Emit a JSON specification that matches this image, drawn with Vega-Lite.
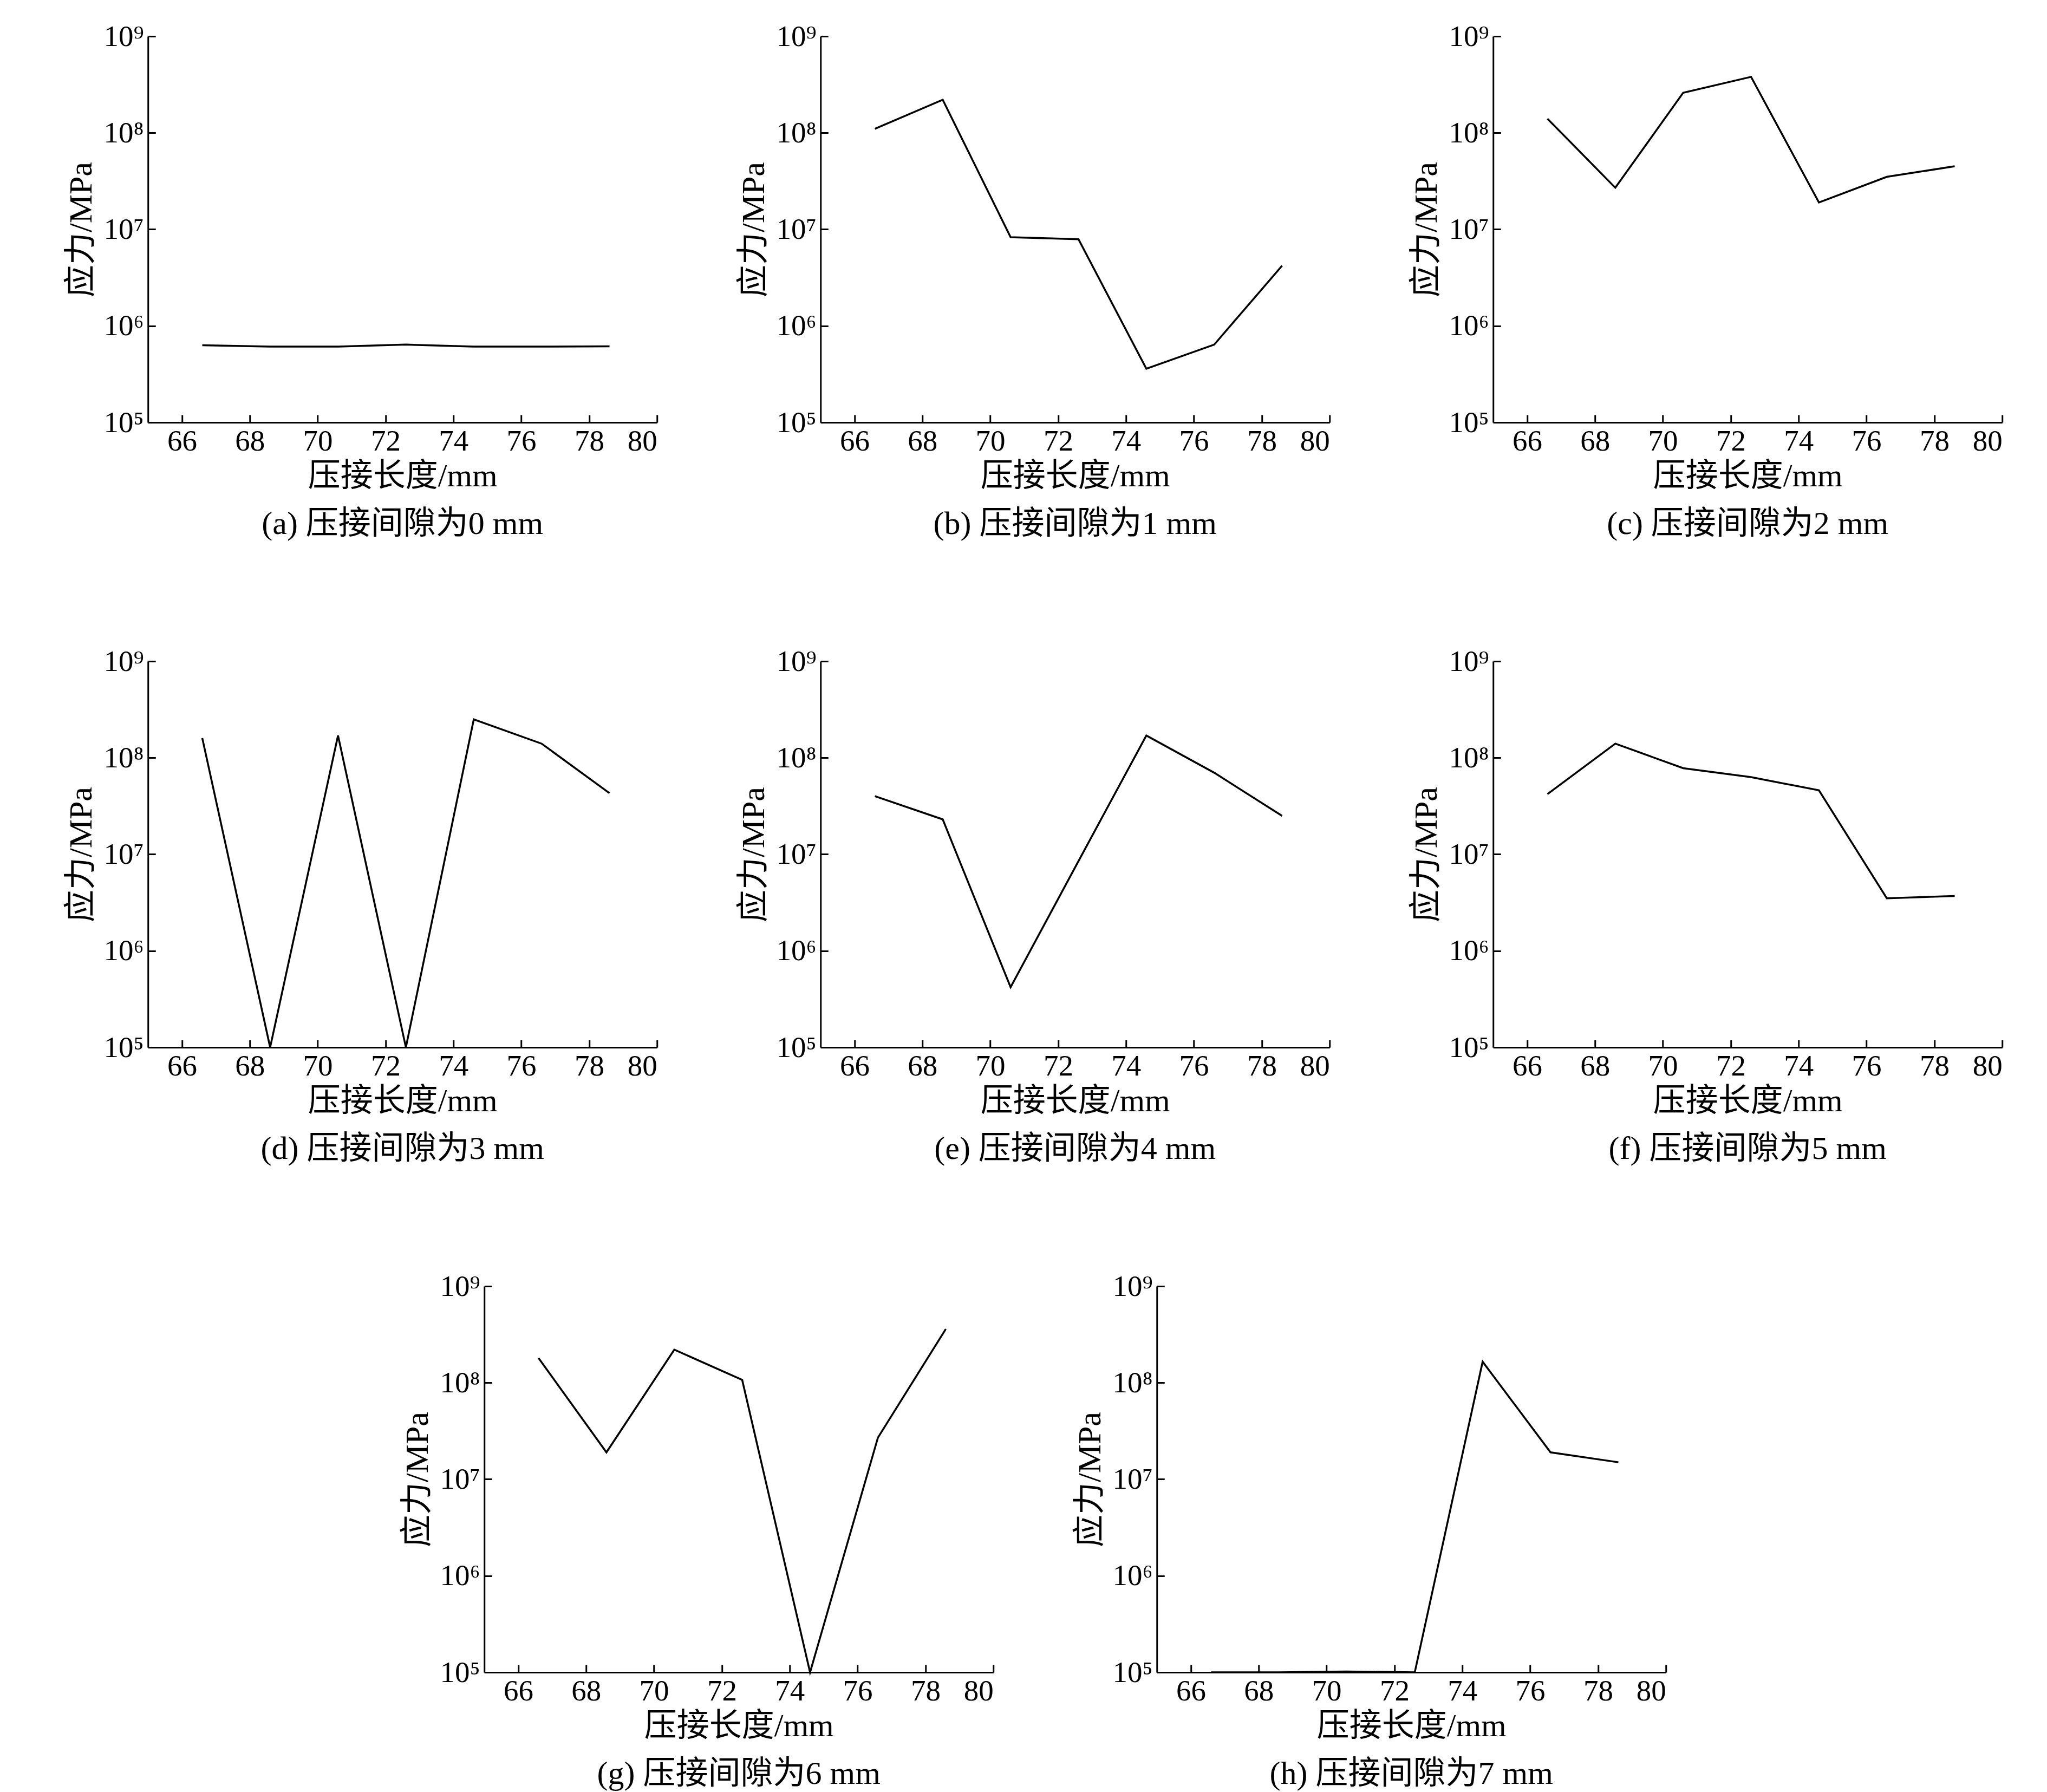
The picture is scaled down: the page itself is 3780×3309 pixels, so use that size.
{
  "$schema": "https://vega.github.io/schema/vega-lite/v6.json",
  "background": "white",
  "padding": {"left": 120, "top": 40, "right": 20, "bottom": 20},
  "datasets": {
    "d": [
      {"p": "a", "x": 66.6, "y": 630000}, {"p": "a", "x": 68.6, "y": 610000}, {"p": "a", "x": 70.6, "y": 610000}, {"p": "a", "x": 72.6, "y": 640000}, {"p": "a", "x": 74.6, "y": 610000}, {"p": "a", "x": 76.6, "y": 610000}, {"p": "a", "x": 78.6, "y": 615000},
      {"p": "b", "x": 66.6, "y": 110000000}, {"p": "b", "x": 68.6, "y": 220000000}, {"p": "b", "x": 70.6, "y": 8300000}, {"p": "b", "x": 72.6, "y": 7900000}, {"p": "b", "x": 74.6, "y": 360000}, {"p": "b", "x": 76.6, "y": 640000}, {"p": "b", "x": 78.6, "y": 4200000},
      {"p": "c", "x": 66.6, "y": 140000000}, {"p": "c", "x": 68.6, "y": 27000000}, {"p": "c", "x": 70.6, "y": 260000000}, {"p": "c", "x": 72.6, "y": 380000000}, {"p": "c", "x": 74.6, "y": 19000000}, {"p": "c", "x": 76.6, "y": 35000000}, {"p": "c", "x": 78.6, "y": 45000000},
      {"p": "d", "x": 66.6, "y": 160000000}, {"p": "d", "x": 68.6, "y": 100000}, {"p": "d", "x": 70.6, "y": 170000000}, {"p": "d", "x": 72.6, "y": 100000}, {"p": "d", "x": 74.6, "y": 250000000}, {"p": "d", "x": 76.6, "y": 140000000}, {"p": "d", "x": 78.6, "y": 43000000},
      {"p": "e", "x": 66.6, "y": 40000000}, {"p": "e", "x": 68.6, "y": 23000000}, {"p": "e", "x": 70.6, "y": 420000}, {"p": "e", "x": 72.6, "y": 8500000}, {"p": "e", "x": 74.6, "y": 170000000}, {"p": "e", "x": 76.6, "y": 70000000}, {"p": "e", "x": 78.6, "y": 25000000},
      {"p": "f", "x": 66.6, "y": 42000000}, {"p": "f", "x": 68.6, "y": 140000000}, {"p": "f", "x": 70.6, "y": 78000000}, {"p": "f", "x": 72.6, "y": 63000000}, {"p": "f", "x": 74.6, "y": 46000000}, {"p": "f", "x": 76.6, "y": 3500000}, {"p": "f", "x": 78.6, "y": 3700000},
      {"p": "g", "x": 66.6, "y": 180000000}, {"p": "g", "x": 68.6, "y": 19000000}, {"p": "g", "x": 70.6, "y": 220000000}, {"p": "g", "x": 72.6, "y": 107000000}, {"p": "g", "x": 74.6, "y": 100000}, {"p": "g", "x": 76.6, "y": 27000000}, {"p": "g", "x": 78.6, "y": 360000000},
      {"p": "h", "x": 66.6, "y": 100000}, {"p": "h", "x": 68.6, "y": 100000}, {"p": "h", "x": 70.6, "y": 102000}, {"p": "h", "x": 72.6, "y": 100000}, {"p": "h", "x": 74.6, "y": 165000000}, {"p": "h", "x": 76.6, "y": 19000000}, {"p": "h", "x": 78.6, "y": 15000000}
    ]
  },
  "vconcat": [
    {"hconcat": [
      {"data": {"name": "d"}, "transform": [{"filter": "datum.p == 'a'"}], "width": 940, "height": 713, "title": "(a) 压接间隙为0 mm", "mark": {"type": "line", "color": "black", "strokeWidth": 3.5},
       "encoding": {"x": {"field": "x", "type": "quantitative", "scale": {"domain": [65, 80]}, "axis": {"values": [66, 68, 70, 72, 74, 76, 78, 80]}, "title": "压接长度/mm"},
                    "y": {"field": "y", "type": "quantitative", "scale": {"type": "log", "domain": [100000, 1000000000]}, "axis": {"values": [100000, 1000000, 10000000, 100000000, 1000000000]}, "title": "应力/MPa"}}},
      {"data": {"name": "d"}, "transform": [{"filter": "datum.p == 'b'"}], "width": 940, "height": 713, "title": "(b) 压接间隙为1 mm", "mark": {"type": "line", "color": "black", "strokeWidth": 3.5},
       "encoding": {"x": {"field": "x", "type": "quantitative", "scale": {"domain": [65, 80]}, "axis": {"values": [66, 68, 70, 72, 74, 76, 78, 80]}, "title": "压接长度/mm"},
                    "y": {"field": "y", "type": "quantitative", "scale": {"type": "log", "domain": [100000, 1000000000]}, "axis": {"values": [100000, 1000000, 10000000, 100000000, 1000000000]}, "title": "应力/MPa"}}},
      {"data": {"name": "d"}, "transform": [{"filter": "datum.p == 'c'"}], "width": 940, "height": 713, "title": "(c) 压接间隙为2 mm", "mark": {"type": "line", "color": "black", "strokeWidth": 3.5},
       "encoding": {"x": {"field": "x", "type": "quantitative", "scale": {"domain": [65, 80]}, "axis": {"values": [66, 68, 70, 72, 74, 76, 78, 80]}, "title": "压接长度/mm"},
                    "y": {"field": "y", "type": "quantitative", "scale": {"type": "log", "domain": [100000, 1000000000]}, "axis": {"values": [100000, 1000000, 10000000, 100000000, 1000000000]}, "title": "应力/MPa"}}}
    ]},
    {"hconcat": [
      {"data": {"name": "d"}, "transform": [{"filter": "datum.p == 'd'"}], "width": 940, "height": 713, "title": "(d) 压接间隙为3 mm", "mark": {"type": "line", "color": "black", "strokeWidth": 3.5},
       "encoding": {"x": {"field": "x", "type": "quantitative", "scale": {"domain": [65, 80]}, "axis": {"values": [66, 68, 70, 72, 74, 76, 78, 80]}, "title": "压接长度/mm"},
                    "y": {"field": "y", "type": "quantitative", "scale": {"type": "log", "domain": [100000, 1000000000]}, "axis": {"values": [100000, 1000000, 10000000, 100000000, 1000000000]}, "title": "应力/MPa"}}},
      {"data": {"name": "d"}, "transform": [{"filter": "datum.p == 'e'"}], "width": 940, "height": 713, "title": "(e) 压接间隙为4 mm", "mark": {"type": "line", "color": "black", "strokeWidth": 3.5},
       "encoding": {"x": {"field": "x", "type": "quantitative", "scale": {"domain": [65, 80]}, "axis": {"values": [66, 68, 70, 72, 74, 76, 78, 80]}, "title": "压接长度/mm"},
                    "y": {"field": "y", "type": "quantitative", "scale": {"type": "log", "domain": [100000, 1000000000]}, "axis": {"values": [100000, 1000000, 10000000, 100000000, 1000000000]}, "title": "应力/MPa"}}},
      {"data": {"name": "d"}, "transform": [{"filter": "datum.p == 'f'"}], "width": 940, "height": 713, "title": "(f) 压接间隙为5 mm", "mark": {"type": "line", "color": "black", "strokeWidth": 3.5},
       "encoding": {"x": {"field": "x", "type": "quantitative", "scale": {"domain": [65, 80]}, "axis": {"values": [66, 68, 70, 72, 74, 76, 78, 80]}, "title": "压接长度/mm"},
                    "y": {"field": "y", "type": "quantitative", "scale": {"type": "log", "domain": [100000, 1000000000]}, "axis": {"values": [100000, 1000000, 10000000, 100000000, 1000000000]}, "title": "应力/MPa"}}}
    ]},
    {"hconcat": [
      {"data": {"name": "d"}, "transform": [{"filter": "datum.p == 'g'"}], "width": 940, "height": 713, "title": "(g) 压接间隙为6 mm", "mark": {"type": "line", "color": "black", "strokeWidth": 3.5},
       "encoding": {"x": {"field": "x", "type": "quantitative", "scale": {"domain": [65, 80]}, "axis": {"values": [66, 68, 70, 72, 74, 76, 78, 80]}, "title": "压接长度/mm"},
                    "y": {"field": "y", "type": "quantitative", "scale": {"type": "log", "domain": [100000, 1000000000]}, "axis": {"values": [100000, 1000000, 10000000, 100000000, 1000000000]}, "title": "应力/MPa"}}},
      {"data": {"name": "d"}, "transform": [{"filter": "datum.p == 'h'"}], "width": 940, "height": 713, "title": "(h) 压接间隙为7 mm", "mark": {"type": "line", "color": "black", "strokeWidth": 3.5},
       "encoding": {"x": {"field": "x", "type": "quantitative", "scale": {"domain": [65, 80]}, "axis": {"values": [66, 68, 70, 72, 74, 76, 78, 80]}, "title": "压接长度/mm"},
                    "y": {"field": "y", "type": "quantitative", "scale": {"type": "log", "domain": [100000, 1000000000]}, "axis": {"values": [100000, 1000000, 10000000, 100000000, 1000000000]}, "title": "应力/MPa"}}}
    ]}
  ],
  "center": true,
  "spacing": 196,
  "config": {
    "font": "Liberation Serif, Noto Sans CJK SC",
    "concat": {"spacing": 146},
    "view": {"stroke": null},
    "title": {"orient": "bottom", "fontSize": 60, "fontWeight": "normal", "color": "black", "offset": 30, "font": "Liberation Serif, Noto Sans CJK SC"},
    "axis": {"grid": false, "domainColor": "black", "domainWidth": 3, "tickColor": "black", "tickWidth": 3, "tickSize": -14, "labelFontSize": 55, "labelColor": "black", "titleFontSize": 60, "titleFontWeight": "normal", "titleColor": "black", "labelFont": "Liberation Serif", "titleFont": "Liberation Serif, Noto Sans CJK SC"},
    "axisX": {"labelPadding": 22, "titlePadding": 8},
    "axisY": {"labelExpr": "'10' + ['⁵','⁶','⁷','⁸','⁹'][round(log(datum.value)/LN10)-5]", "labelPadding": 22, "titlePadding": 10}
  }
}
